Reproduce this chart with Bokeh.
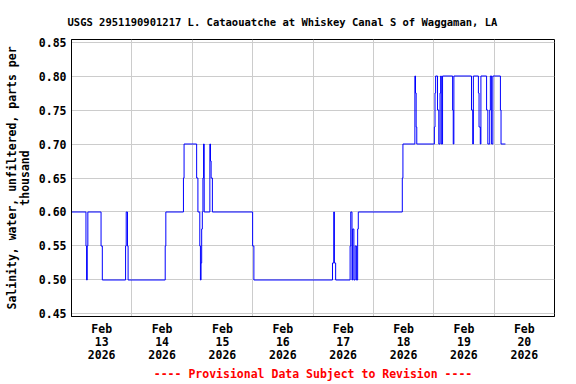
import pandas as pd
from bokeh.plotting import figure
from bokeh.models import FixedTicker, Title, Range1d, PrintfTickFormatter
from bokeh.embed import file_html
from bokeh.resources import INLINE

title_text = "USGS 2951190901217 L. Cataouatche at Whiskey Canal S of Waggaman, LA"
y_label = "Salinity, water, unfiltered, parts per\nthousand"
footer_text = "---- Provisional Data Subject to Revision ----"

# change points of the step series (time, salinity ppt)
times = [
    "2026-02-13 00:00", "2026-02-13 05:45", "2026-02-13 06:00", "2026-02-13 06:15", "2026-02-13 06:30",
    "2026-02-13 11:45", "2026-02-13 12:15", "2026-02-13 21:30", "2026-02-13 21:45", "2026-02-13 22:15",
    "2026-02-13 22:30", "2026-02-14 13:15", "2026-02-14 13:30", "2026-02-14 20:30", "2026-02-14 20:45",
    "2026-02-15 01:45", "2026-02-15 02:15", "2026-02-15 03:00", "2026-02-15 03:15", "2026-02-15 03:30",
    "2026-02-15 03:45", "2026-02-15 04:00", "2026-02-15 04:15", "2026-02-15 04:30", "2026-02-15 04:45",
    "2026-02-15 07:00", "2026-02-15 07:15", "2026-02-15 07:30", "2026-02-15 08:00", "2026-02-16 00:00",
    "2026-02-16 00:30", "2026-02-17 07:45", "2026-02-17 08:15", "2026-02-17 08:30", "2026-02-17 09:00",
    "2026-02-17 14:45", "2026-02-17 15:00", "2026-02-17 15:30", "2026-02-17 15:45", "2026-02-17 16:15",
    "2026-02-17 16:45", "2026-02-17 17:15", "2026-02-17 17:45", "2026-02-17 18:00", "2026-02-18 11:30",
    "2026-02-18 11:45", "2026-02-18 16:30", "2026-02-18 16:45", "2026-02-18 17:00", "2026-02-18 17:15",
    "2026-02-19 00:15", "2026-02-19 00:30", "2026-02-19 00:45", "2026-02-19 01:30", "2026-02-19 02:00",
    "2026-02-19 02:30", "2026-02-19 02:45", "2026-02-19 03:00", "2026-02-19 03:30", "2026-02-19 07:30",
    "2026-02-19 07:45", "2026-02-19 08:00", "2026-02-19 15:00", "2026-02-19 15:30", "2026-02-19 15:45",
    "2026-02-19 17:45", "2026-02-19 18:00", "2026-02-19 18:30", "2026-02-19 18:45", "2026-02-19 21:00",
    "2026-02-19 21:30", "2026-02-19 22:15", "2026-02-19 22:30", "2026-02-19 23:00", "2026-02-19 23:30",
    "2026-02-20 02:30", "2026-02-20 02:45", "2026-02-20 04:30",
]
salinity = [
    0.60, 0.55, 0.50, 0.55, 0.60,
    0.55, 0.50, 0.55, 0.60, 0.55,
    0.50, 0.55, 0.60, 0.65, 0.70,
    0.65, 0.60, 0.55, 0.50, 0.525,
    0.575, 0.60, 0.65, 0.70, 0.60,
    0.70, 0.675, 0.65, 0.60, 0.55,
    0.50, 0.525, 0.60, 0.525, 0.50,
    0.55, 0.60, 0.50, 0.575, 0.50,
    0.55, 0.50, 0.575, 0.60, 0.65,
    0.70, 0.80, 0.775, 0.725, 0.70,
    0.725, 0.775, 0.80, 0.75, 0.70,
    0.775, 0.80, 0.70, 0.80, 0.75,
    0.70, 0.80, 0.75, 0.70, 0.80,
    0.775, 0.725, 0.70, 0.80, 0.75,
    0.70, 0.75, 0.80, 0.70, 0.80,
    0.75, 0.70, 0.70,
]

day_dates = ["2026-02-13", "2026-02-14", "2026-02-15", "2026-02-16",
             "2026-02-17", "2026-02-18", "2026-02-19", "2026-02-20"]
day_labels = ["Feb\n13\n2026", "Feb\n14\n2026", "Feb\n15\n2026", "Feb\n16\n2026",
              "Feb\n17\n2026", "Feb\n18\n2026", "Feb\n19\n2026", "Feb\n20\n2026"]
y_ticks = [0.45, 0.50, 0.55, 0.60, 0.65, 0.70, 0.75, 0.80, 0.85]

FONT = "DejaVu Sans Mono"


def ms(s):
    return int(pd.Timestamp(s).value // 10**6)


x = pd.to_datetime(times)
noon_ticks = [ms(d + " 12:00") for d in day_dates]
midnight_ticks = [ms(d) for d in day_dates] + [ms("2026-02-21")]

p = figure(width=576, height=384, x_axis_type="datetime",
           output_backend="svg", toolbar_location=None,
           x_range=Range1d(ms("2026-02-13"), ms("2026-02-21")),
           y_range=Range1d(0.4463, 0.8537),
           min_border_left=71, min_border_right=22,
           min_border_top=39, min_border_bottom=68)

p.title = Title(text=title_text, align="left", offset=-4, standoff=24,
                text_font=FONT, text_font_size="10.5px", text_font_style="bold",
                text_color="black")

p.step(x, salinity, mode="after", line_color="#0000FF", line_width=1)

p.add_layout(Title(text=footer_text, align="center", text_font=FONT,
                   text_font_size="11.5px", text_font_style="bold",
                   text_color="#FF0000", standoff=0), "below")

p.xaxis.ticker = FixedTicker(ticks=noon_ticks)
p.xaxis.major_label_overrides = {t: lab for t, lab in zip(noon_ticks, day_labels)}
p.xgrid.ticker = FixedTicker(ticks=midnight_ticks)
p.yaxis.ticker = FixedTicker(ticks=y_ticks)
p.yaxis.formatter = PrintfTickFormatter(format="%.2f")
p.yaxis.axis_label = y_label

for ax in (p.xaxis[0], p.yaxis[0]):
    ax.major_tick_line_color = None
    ax.minor_tick_line_color = None
    ax.major_tick_out = 0
    ax.major_tick_in = 0
    ax.axis_line_color = "black"
    ax.major_label_text_font = FONT
    ax.major_label_text_font_size = "11.5px"
    ax.major_label_text_font_style = "bold"
    ax.major_label_text_color = "black"
    ax.major_label_text_line_height = 0.93
    ax.axis_label_text_font = FONT
    ax.axis_label_text_font_size = "11.5px"
    ax.axis_label_text_font_style = "bold"
    ax.axis_label_text_color = "black"
    ax.axis_label_text_line_height = 0.9

p.xaxis.major_label_standoff = 5
p.yaxis.major_label_standoff = 5
p.yaxis.axis_label_standoff = 4

p.xgrid.grid_line_color = "#CCCCCC"
p.ygrid.grid_line_color = "#CCCCCC"
p.outline_line_color = "black"
p.outline_line_alpha = 1
p.background_fill_color = "white"
p.border_fill_color = "white"

open("out.html", "w").write(file_html(p, INLINE))
